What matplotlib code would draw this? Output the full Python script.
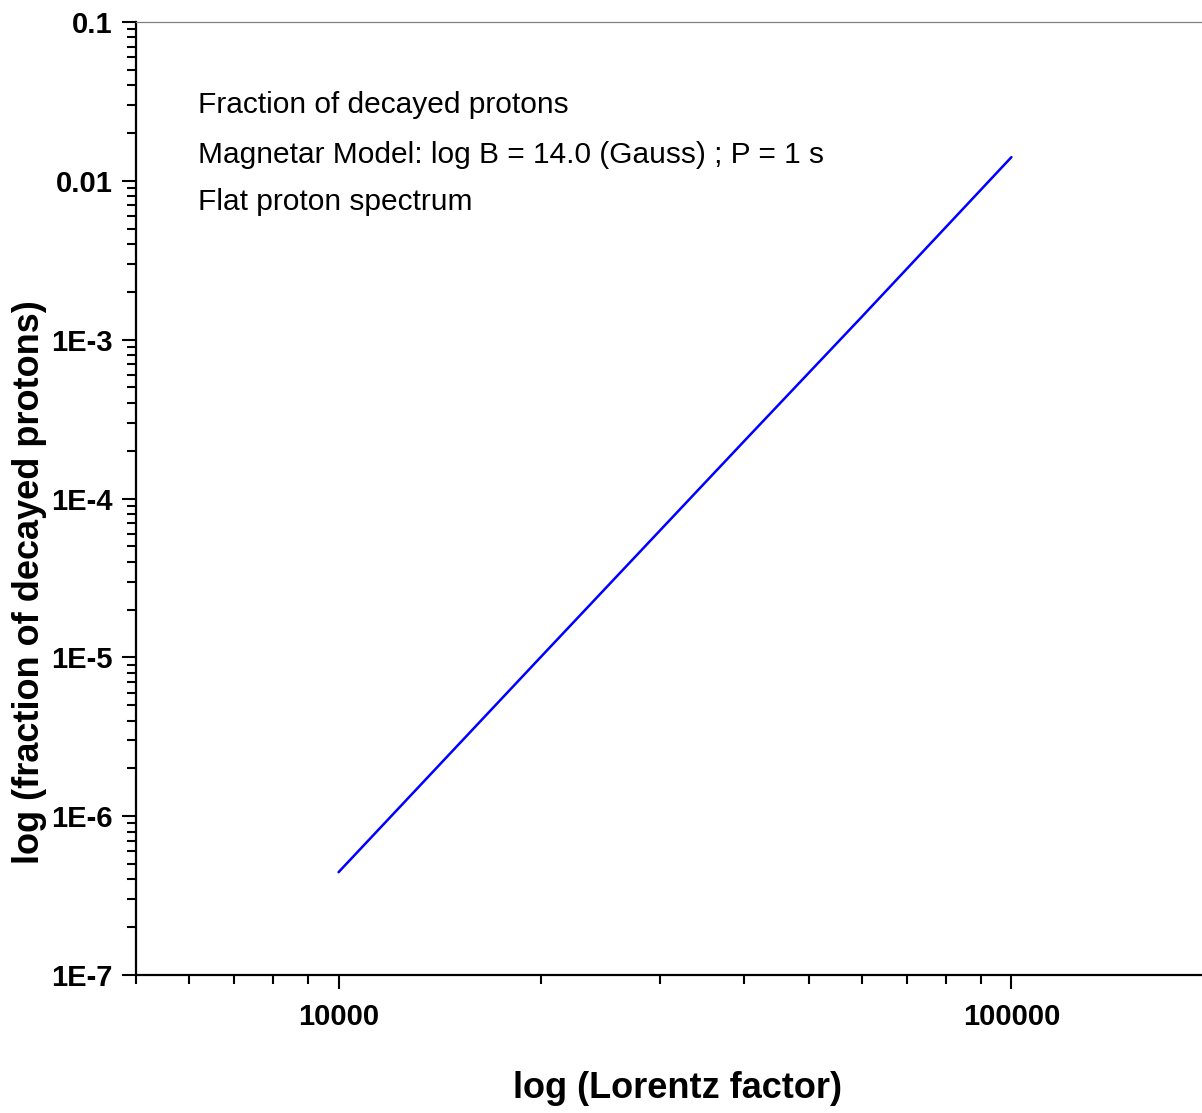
"""
Fraction of decayed protons vs Lorentz factor (magnetar model)
"""
import matplotlib
matplotlib.use('Agg')
import matplotlib.pyplot as plt
from matplotlib import font_manager
from matplotlib.ticker import LogLocator, FixedLocator, NullFormatter

# ── Datos ──
lorentz = [10000, 20000, 40000, 60000, 100000]
fraction = [4.44e-7, 1.01e-5, 2.28e-4, 1.40e-3, 1.41e-2]

y_ticks = [1e-7, 1e-6, 1e-5, 1e-4, 1e-3, 1e-2, 1e-1]
y_labels = ['1E-7', '1E-6', '1E-5', '1E-4', '1E-3', '0.01', '0.1']
x_ticks = [10000, 100000]
x_labels = ['10000', '100000']

notes = [
    'Fraction of decayed protons',
    'Magnetar Model: log B = 14.0 (Gauss) ; P = 1 s',
    'Flat proton spectrum',
]

# ── Fuentes ──
names = {f.name for f in font_manager.fontManager.ttflist}
if 'Liberation Sans Narrow' in names:
    NOTE_FONT, NOTE_FS = 'Liberation Sans Narrow', 26
else:
    NOTE_FONT, NOTE_FS = 'Liberation Sans', 21.5
BOLD = 'Liberation Sans'

W, H = 1202, 1113
fig = plt.figure(figsize=(W / 100, H / 100), dpi=100)
fig.patch.set_facecolor('white')

# axes in pixel terms: left 136, bottom 975, top 22; 1 decade in x = 673 px
left, top, bottom = 136, 22, 975
width = 1078
ax = fig.add_axes([left / W, 1 - bottom / H, width / W, (bottom - top) / H])

ax.plot(lorentz, fraction, color='#0000ff', linewidth=1.8, solid_capstyle='round')

ax.set_xscale('log')
ax.set_yscale('log')
ax.set_xlim(5000, 200000)
ax.set_ylim(1e-7, 0.1)

ax.xaxis.set_major_locator(FixedLocator(x_ticks))
ax.set_xticklabels(x_labels)
ax.xaxis.set_minor_locator(LogLocator(base=10, subs=range(2, 10)))
ax.xaxis.set_minor_formatter(NullFormatter())

ax.yaxis.set_major_locator(FixedLocator(y_ticks))
ax.set_yticklabels(y_labels)
ax.yaxis.set_minor_locator(LogLocator(base=10, subs=range(2, 10)))
ax.yaxis.set_minor_formatter(NullFormatter())

ax.tick_params(which='major', direction='out', length=10, width=1.5,
               labelsize=21)
ax.tick_params(axis='x', which='major', pad=10)
ax.tick_params(axis='y', which='major', pad=7)
ax.tick_params(which='minor', direction='out', length=6.5, width=1.5)
for lab in ax.get_xticklabels() + ax.get_yticklabels():
    lab.set_fontfamily(BOLD)
    lab.set_fontweight('bold')

ax.spines['right'].set_visible(False)
ax.spines['top'].set_color('#808080')
ax.spines['top'].set_linewidth(0.9)
ax.spines['left'].set_linewidth(1.6)
ax.spines['bottom'].set_linewidth(1.6)

# ── Textos ──
baselines = [113, 163, 210]
for txt, yb in zip(notes, baselines):
    fig.text(198 / W, 1 - yb / H, txt, ha='left', va='baseline',
             fontsize=NOTE_FS, family=NOTE_FONT, color='black')

fig.text(677 / W, 1 - 1088 / H, 'log (Lorentz factor)', ha='center',
         va='center', fontsize=26, family=BOLD, fontweight='bold')
fig.text(30 / W, 1 - 582 / H, 'log (fraction of decayed protons)',
         ha='center', va='center', rotation=90, fontsize=26,
         family=BOLD, fontweight='bold')

fig.savefig('out.png', dpi=100)
